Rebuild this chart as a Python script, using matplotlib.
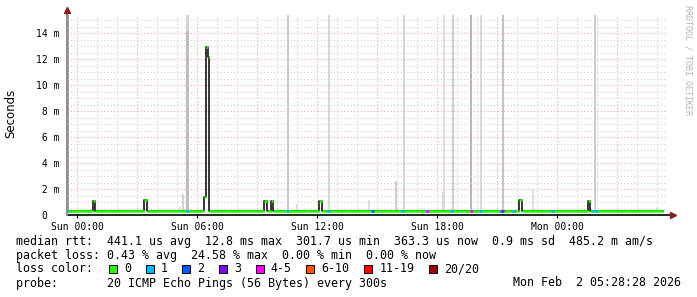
# smokeping style latency chart (median rtt + smoke + loss colours)

import matplotlib
matplotlib.use('Agg')
import matplotlib.pyplot as plt
import numpy as np

W, H = 697, 297
MONO = 'DejaVu Sans Mono'

# median rtt as steps: hours since Sun 00:00 -> ms
med_t = [-0.5, 0.82, 0.9, 3.35, 3.48, 6.37, 6.47, 6.55, 6.62, 9.37, 9.48,
         9.68, 9.82, 12.12, 12.23, 22.08, 22.23, 25.55, 25.65, 29.3]
med_v = [0.33, 1.1, 0.33, 1.15, 0.33, 1.4, 12.9, 12.2, 0.33, 1.1, 0.33,
         1.05, 0.33, 1.1, 0.33, 1.15, 0.33, 1.08, 0.33, 0.33]

# samples with packet loss (hour, loss class index)
loss_t = [-0.47, 5.52, 10.53, 12.57, 14.78, 16.28, 17.45, 17.53, 18.73,
          19.73, 20.17, 21.18, 21.28, 21.82, 23.78, 25.8, 25.98]
loss_k = [1, 1, 1, 1, 2, 1, 1, 4, 1, 4, 1, 1, 3, 1, 1, 1, 1]

# smoke (spread of single pings): hour, top in ms, grey shade
smoke_t = [-0.47, 5.15, 5.3, 5.52, 5.52, 10.53, 10.98, 12.6, 14.6, 15.93,
           16.35, 18.28, 18.36, 18.78, 19.68, 20.18, 21.28, 22.8, 25.9, 29.0]
smoke_top = [15.4, 0.6, 1.6, 15.4, 14.2, 15.4, 0.85, 15.4, 1.15, 2.6,
             15.4, 1.8, 15.4, 15.4, 15.4, 15.4, 15.4, 1.9, 15.4, 0.6]
smoke_col = ['#a0a0a0', '#e0e0e0', '#d4d4d4', '#d3d3d3', '#bdbdbd', '#c8c8c8',
             '#e0e0e0', '#d6d6d6', '#dcdcdc', '#d0d0d0', '#d6d6d6', '#d8d8d8',
             '#dedede', '#cfcfcf', '#b5b5b5', '#dadada', '#c4c4c4', '#e0e0e0',
             '#cdcdcd', '#e0e0e0']

loss_labels = ['0', '1', '2', '3', '4-5', '6-10', '11-19', '20/20']
loss_colors = ['#26ff00', '#00b8ff', '#0059ff', '#7e00ff', '#ff00ff',
               '#ff5500', '#ff0000', '#a10000']

x_ticks = [0, 6, 12, 18, 24]
x_labels = ['Sun 00:00', 'Sun 06:00', 'Sun 12:00', 'Sun 18:00', 'Mon 00:00']
y_ticks = [0, 2, 4, 6, 8, 10, 12, 14]
y_labels = ['0  ', ' 2 m', ' 4 m', ' 6 m', ' 8 m', '10 m', '12 m', '14 m']


fig = plt.figure(figsize=(W / 100, H / 100), dpi=100)
ax = fig.add_axes([67 / W, (H - 215) / H, 600 / W, 200 / H])
ax.set_xlim(-0.5, 29.5)
ax.set_ylim(0, 15.4)

# grid
for h in np.arange(0, 30, 1):
    if h % 3 == 0:
        ax.axvline(h, color='#f4a8a8', lw=0.8, ls=(0, (1, 2)), zorder=1.5)
    else:
        ax.axvline(h, color='#cfcfcf', lw=0.8, ls=(0, (1, 2)), zorder=1.5)
for v in np.arange(0.5, 15.5, 0.5):
    if v % 2 == 0:
        ax.axhline(v, color='#f4a8a8', lw=0.8, ls=(0, (1, 2)), zorder=1.5)
    else:
        ax.axhline(v, color='#cfcfcf', lw=0.8, ls=(0, (1, 2)), zorder=1.5)

# smoke
order = np.argsort(smoke_top)[::-1]
for i in order:
    ax.bar(smoke_t[i], smoke_top[i] - 0.3, bottom=0.3, width=0.11,
           color=smoke_col[i], lw=0, zorder=1)

# median line
ax.step(med_t, med_v, where='post', color='black', lw=1.1, zorder=2)
for i in range(len(med_t) - 1):
    ax.hlines(med_v[i], med_t[i], med_t[i + 1], color=loss_colors[0],
              lw=1.8, zorder=3)
for t, k in zip(loss_t, loss_k):
    ax.hlines(0.29, t - 0.06, t + 0.06, color=loss_colors[k], lw=1.9, zorder=4)

# axes lines + arrows
for s in ax.spines.values():
    s.set_visible(False)
ax.plot([0, 1.008], [0, 0], transform=ax.transAxes, color='black', lw=1.2,
        clip_on=False, zorder=5)
ax.plot([0, 0], [0, 1.02], transform=ax.transAxes, color='#8c8c8c', lw=1.4,
        clip_on=False, zorder=5)
ax.plot([1.01], [0], marker='>', ms=5, color='#8b1a1a', transform=ax.transAxes,
        clip_on=False, zorder=6)
ax.plot([0], [1.025], marker='^', ms=5, color='#8b1a1a', transform=ax.transAxes,
        clip_on=False, zorder=6)

ax.set_xticks(x_ticks)
ax.set_xticklabels(x_labels, family=MONO, fontsize=7)
ax.set_yticks(y_ticks)
ax.set_yticklabels(y_labels, family=MONO, fontsize=7)
ax.tick_params(axis='x', length=2, pad=3)
ax.tick_params(axis='y', length=0, pad=5.4)

fig.text(11 / W, 1 - 113 / H, 'Seconds', rotation=90, ha='center', va='center',
         fontsize=8.5, family='DejaVu Sans')
fig.text(688 / W, 1 - 60 / H, 'RRDTOOL / TOBI OETIKER', rotation=-90,
         ha='center', va='center', fontsize=6, family=MONO, color='#b4b4b4')

# legend block
lines = ['median rtt:  441.1 us avg  12.8 ms max  301.7 us min  363.3 us now  0.9 ms sd  485.2 m am/s',
         'packet loss: 0.43 % avg  24.58 % max  0.00 % min  0.00 % now',
         'loss color:',
         'probe:       20 ICMP Echo Pings (56 Bytes) every 300s']
rows = [241, 255, 269, 283]
for txt, y in zip(lines, rows):
    fig.text(16 / W, 1 - y / H, txt, ha='left', va='center', fontsize=8.4,
             family=MONO)
fig.text(681 / W, 1 - 283 / H, 'Mon Feb  2 05:28:28 2026', ha='right',
         va='center', fontsize=8.4, family=MONO)

x = 109
for lab, col in zip(loss_labels, loss_colors):
    fig.patches.append(plt.Rectangle((x / W, 1 - 273 / H), 8 / W, 8 / H,
                                     transform=fig.transFigure, facecolor=col,
                                     edgecolor='black', lw=0.7))
    fig.text((x + 15) / W, 1 - 269 / H, lab, ha='left', va='center',
             fontsize=8.4, family=MONO)
    x = x + 15 + len(lab) * 7.05 + 14.6

fig.savefig('out.png', dpi=100, facecolor='white')
